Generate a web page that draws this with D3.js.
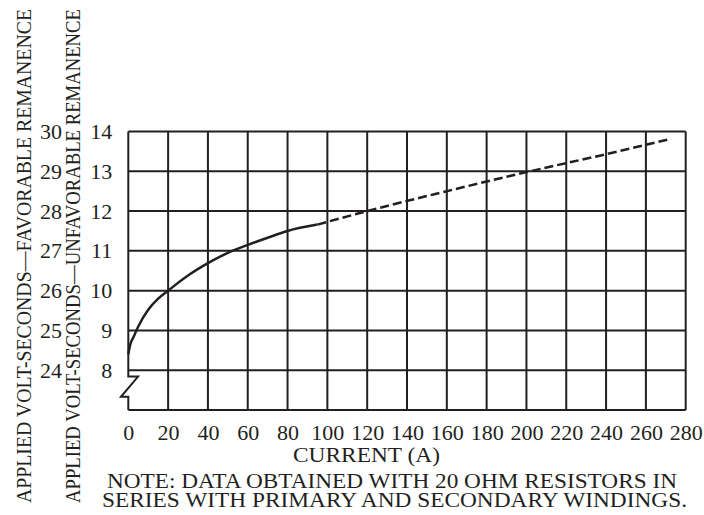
<!DOCTYPE html>
<html>
<head>
<meta charset="utf-8">
<script src="https://cdn.jsdelivr.net/npm/d3@7"></script>
<style>
	body { margin: 0; background: #fff; }
</style>
</head>
<body>
<svg id="chart" width="704" height="515"></svg>
<script>
// x ticks (current, A)
var currentTicks = [0, 20, 40, 60, 80, 100, 120, 140, 160, 180, 200, 220, 240, 260, 280];
// y ticks: unfavorable remanence (inner) and favorable remanence (outer)
var unfavTicks = [8, 9, 10, 11, 12, 13, 14];
var favTicks = [24, 25, 26, 27, 28, 29, 30];

// measured curve, solid part
var solidCurrent = [0, 1, 2.5, 5, 10, 15, 20, 30, 40, 50, 60, 70, 80, 95];
var solidVS = [8.4, 8.65, 8.82, 9.1, 9.52, 9.8, 10.0, 10.38, 10.69, 10.95, 11.15, 11.33, 11.5, 11.66];
// extrapolated part, dashed
var dashCurrent = [95, 120, 160, 200, 240, 272];
var dashVS = [11.66, 12.0, 12.5, 12.98, 13.43, 13.81];

var colors = { ink: "#231f20" };
var fontSize = 22;
var fontFamily = "Liberation Serif";

var svg = d3.select("#chart");

var x = d3.scaleLinear().domain([0, 280]).range([128.3, 685.7]);
// bottom of the frame sits one row below 8 (axis break)
var y = d3.scaleLinear().domain([7, 14]).range([410, 131.5]);

var grid = svg.append("g").attr("class", "grid");

//vertical lines (left edge drawn separately because of the break)
grid.selectAll("line.v")
	.data(currentTicks.filter(function(d) { return d > 0; }))
	.enter().append("line")
	.attr("class", "v")
	.attr("x1", function(d) { return x(d); })
	.attr("x2", function(d) { return x(d); })
	.attr("y1", y(14))
	.attr("y2", y(7))
	.attr("stroke", colors.ink)
	.attr("stroke-width", 2);

grid.selectAll("line.h")
	.data(unfavTicks.concat([7]))
	.enter().append("line")
	.attr("class", "h")
	.attr("x1", x(0))
	.attr("x2", x(280))
	.attr("y1", function(d) { return y(d); })
	.attr("y2", function(d) { return y(d); })
	.attr("stroke", colors.ink)
	.attr("stroke-width", 2);

// left edge with the zig-zag break symbol
var breakPts = [[0, 14], [0, 7.84], [4.9, 7.84], [-3.7, 7.33], [0, 7.33], [0, 7]];
grid.append("path")
	.attr("d", d3.line().x(function(d) { return x(d[0]); }).y(function(d) { return y(d[1]); })(breakPts))
	.attr("fill", "none")
	.attr("stroke", colors.ink)
	.attr("stroke-width", 2)
	.attr("stroke-linejoin", "miter");

// curves
var lineGen = d3.line()
	.x(function(d) { return x(d[0]); })
	.y(function(d) { return y(d[1]); })
	.curve(d3.curveMonotoneX);

svg.append("path")
	.attr("d", lineGen(d3.zip(solidCurrent, solidVS)))
	.attr("fill", "none")
	.attr("stroke", colors.ink)
	.attr("stroke-width", 2.5);

svg.append("path")
	.attr("d", lineGen(d3.zip(dashCurrent, dashVS)))
	.attr("fill", "none")
	.attr("stroke", colors.ink)
	.attr("stroke-width", 2.5)
	.attr("stroke-dasharray", "9,4");

// axes (labels only)
function styleAxis(g) {
	g.select(".domain").remove();
	g.selectAll(".tick line").remove();
	g.attr("font-size", null).attr("font-family", null);
	g.selectAll(".tick text")
		.attr("font-size", fontSize)
		.style("font-family", fontFamily)
		.attr("fill", colors.ink);
}

svg.append("g")
	.attr("transform", "translate(0," + y(7) + ")")
	.call(d3.axisBottom(x).tickValues(currentTicks).tickFormat(d3.format("d")).tickSize(0).tickPadding(14))
	.call(styleAxis);

svg.append("g")
	.attr("transform", "translate(" + x(0) + ",0)")
	.call(d3.axisLeft(y).tickValues(unfavTicks).tickFormat(d3.format("d")).tickSize(0).tickPadding(16))
	.call(styleAxis);

// favorable remanence = unfavorable + 16, same positions
var yFav = d3.scaleLinear().domain([23, 30]).range(y.range());
svg.append("g")
	.attr("transform", "translate(62,0)")
	.call(d3.axisLeft(yFav).tickValues(favTicks).tickFormat(d3.format("d")).tickSize(0).tickPadding(0))
	.call(styleAxis);

// titles and note
function label(txt, tx, ty, rot, len) {
	return svg.append("text")
		.attr("transform", "translate(" + tx + "," + ty + ")" + (rot ? " rotate(" + rot + ")" : ""))
		.attr("text-anchor", "middle")
		.style("font-family", fontFamily)
		.attr("font-size", fontSize)
		.attr("fill", colors.ink)
		.attr("textLength", len)
		.attr("lengthAdjust", "spacingAndGlyphs")
		.text(txt);
}

label("APPLIED VOLT-SECONDS\u2014FAVORABLE REMANENCE", 31, 256, -90, 494);
label("APPLIED VOLT-SECONDS\u2014UNFAVORABLE REMANENCE", 80, 256, -90, 494);
label("CURRENT (A)", 366.5, 462, 0, 147);
label("NOTE: DATA OBTAINED WITH 20 OHM RESISTORS IN", 392, 488, 0, 570);
label("SERIES WITH PRIMARY AND SECONDARY WINDINGS.", 394.5, 507, 0, 585);
</script>
</body>
</html>
